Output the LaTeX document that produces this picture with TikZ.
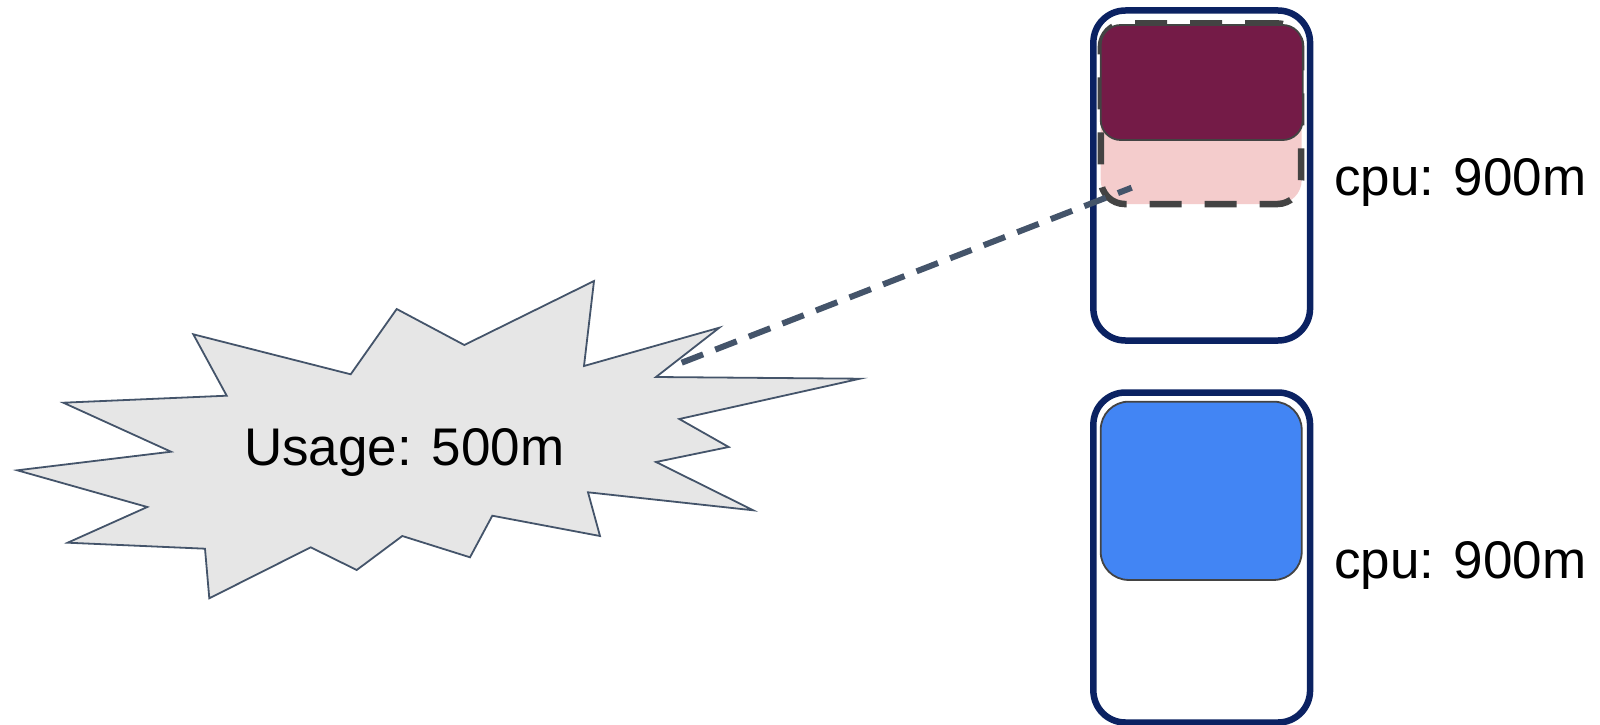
\documentclass[tikz,border=0pt]{standalone}
\usepackage{fontspec}
\setmainfont{Liberation Sans}
\definecolor{navy}{HTML}{0B2262}
\definecolor{maroon}{HTML}{741B47}
\definecolor{pinkish}{HTML}{F4CCCC}
\definecolor{darkgrey}{HTML}{434343}
\definecolor{slate}{HTML}{44546A}
\definecolor{burst}{HTML}{E6E6E6}
\definecolor{gblue}{HTML}{4285F4}
\begin{document}
\begin{tikzpicture}[x=1pt,y=-1pt,
  outerbox/.style={draw=navy,line width=6.5pt,rounded corners=32pt,fill=white,minimum width=216.7pt,minimum height=330pt,inner sep=0pt},
  podbox/.style={draw=darkgrey,line width=1.8pt,inner sep=0pt},
  reqbox/.style={draw=darkgrey,line width=6.5pt,rounded corners=24pt,dash pattern=on 32pt off 23pt,inner sep=0pt},
  lbl/.style={font=\fontsize{53}{62}\selectfont,anchor=base west,inner sep=0pt},
  link/.style={draw=slate,line width=6pt,dash pattern=on 23pt off 13pt}]
\useasboundingbox (0,0) rectangle (1600,725);
% outer boxes
\node[outerbox] (top) at (1201.7,175.5) {};
\node[outerbox] (bot) at (1201.7,557.5) {};
% top contents
\node[fill=pinkish,rounded corners=24pt,minimum width=201pt,minimum height=179pt,inner sep=0pt] (pink) at (1201.2,114.5) {};
\node[reqbox,minimum width=200.3pt,minimum height=180.7pt] (req) at (1201,113.7) {};
\node[podbox,fill=maroon,rounded corners=20pt,minimum width=202pt,minimum height=115pt] (pod) at (1201.7,82.5) {};
% bottom contents
\node[podbox,fill=gblue,rounded corners=28pt,minimum width=201pt,minimum height=178.3pt] (bpod) at (1201.2,490.8) {};
% labels
\node[lbl] (cpu1) at (1334,195) {cpu: 900m};
\node[lbl] (cpu2) at (1334,578) {cpu: 900m};
% starburst
\draw[draw=slate,line width=1.8pt,fill=burst,line join=miter]
 (594,281) -- (584,366) -- (719.3,327.7) -- (656,377) -- (860,378.7) -- (679.3,419)
 -- (728.7,447) -- (656,462) -- (753.3,510.3) -- (588,492.3) -- (600,536) -- (492.3,515.7)
 -- (470,557.3) -- (402.3,536) -- (356.7,570) -- (310.7,547.3) -- (209.3,598.3) -- (205,548.7)
 -- (67.7,542.7) -- (147.3,507) -- (17.3,470.3) -- (171,451.7) -- (63.3,402.7) -- (226.7,395.7)
 -- (193.3,334.3) -- (350.7,374.3) -- (396.7,309) -- (464.3,345) -- cycle;
\node[lbl] (usage) at (244,465) {Usage: 500m};
% connector
\coordinate (lstart) at (681.7,362.7);
\coordinate (lend) at (1131.7,187.7);
\draw[link] (lstart) -- (lend);
\end{tikzpicture}
\end{document}
